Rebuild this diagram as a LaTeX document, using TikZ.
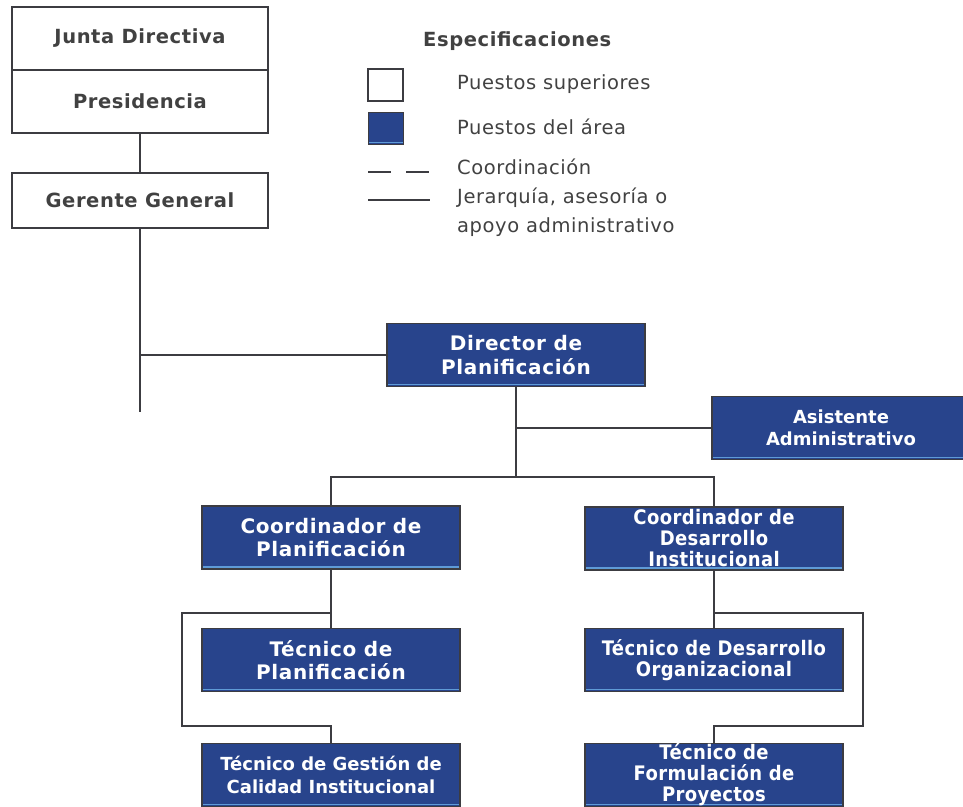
\documentclass[tikz,border=0pt]{standalone}
\usepackage{fontspec}
\setmainfont{DejaVu Sans}
\newfontfamily\boxfont[LetterSpace=3]{DejaVu Sans}
\newfontfamily\condfont[LetterSpace=2]{DejaVu Sans Condensed}
\definecolor{areablue}{RGB}{40,68,140}
\definecolor{lightline}{RGB}{95,155,215}
\definecolor{edgegray}{RGB}{60,60,65}
\definecolor{textgray}{RGB}{65,65,65}

\begin{document}
\begin{tikzpicture}[x=1pt, y=-1pt,
  link/.style={draw=edgegray, line width=1.8pt},
  topbox/.style={draw=edgegray, fill=white, line width=1.6pt, minimum width=256pt, inner sep=0pt, outer sep=0pt, text=textgray, font=\boxfont\bfseries\fontsize{19.5}{22}\selectfont},
  areabox/.style={draw=edgegray, fill=areablue, line width=1.4pt, minimum width=258pt, minimum height=63pt, inner sep=0pt, outer sep=0pt, align=center, text=white, font=\boxfont\bfseries\fontsize{20}{23.5}\selectfont,
    path picture={\draw[lightline, line width=1.6pt] ([yshift=2pt]path picture bounding box.south west) -- ([yshift=2pt]path picture bounding box.south east);}},
  cond/.style={font=\condfont\bfseries\fontsize{20}{21}\selectfont},
  plain/.style={font=\normalfont\bfseries\fontsize{18}{22.5}\selectfont},
  legtext/.style={anchor=west, inner sep=0pt, text=textgray, font=\boxfont\fontsize{19.5}{28.5}\selectfont, align=left}]
\useasboundingbox (0,0) rectangle (963,806);

%puestos superiores
\node[topbox, minimum height=63pt] (JD) at (140,38.5) {Junta Directiva};
\node[topbox, minimum height=63pt] (PR) at (140,101.5) {Presidencia};
\node[topbox, minimum height=55pt] (GG) at (140,200.5) {Gerente General};
\coordinate (GGend) at (140,412);
\draw[link] (PR.south) -- (GG.north);
\draw[link] (GG.south) -- (GGend);

%especificaciones
\node[legtext, font=\boxfont\bfseries\fontsize{19.5}{22}\selectfont] (ESP) at (423,41) {Especificaciones};
\node[draw=edgegray, line width=1.2pt, fill=white, minimum width=35pt, minimum height=32pt, inner sep=0pt] (SQ1) at (385.5,85) {};
\node[draw=edgegray, line width=0.8pt, fill=areablue, minimum width=35pt, minimum height=32pt, inner sep=0pt,
  path picture={\draw[lightline, line width=1.6pt] ([yshift=1.5pt]path picture bounding box.south west) -- ([yshift=1.5pt]path picture bounding box.south east);}] (SQ2) at (385.5,128) {};
\draw[link, dash pattern=on 23pt off 15pt] (368,172) -- (429,172);
\draw[link] (368,200) -- (430,200);
\node[legtext] (L1) at (457,84) {Puestos superiores};
\node[legtext] (L2) at (457,127) {Puestos del área};
\node[legtext] (L3) at (457,167) {Coordinación};
\node[legtext] (L4) at (457,212) {Jerarquía, asesoría o\\apoyo administrativo};

%puestos del area
\node[areabox] (DP) at (516,355) {Director de\\Planificación};
\node[areabox, plain] (AA) at (841,428) {Asistente\\Administrativo};
\node[areabox] (CP) at (331,537.5) {Coordinador de\\Planificación};
\node[areabox, cond] (CD) at (714,538.5) {Coordinador de\\Desarrollo\\Institucional};
\node[areabox] (TP) at (331,660) {Técnico de\\Planificación};
\node[areabox, cond] (TD) at (714,660) {Técnico de Desarrollo\\Organizacional};
\node[areabox, plain] (TG) at (331,775) {Técnico de Gestión de\\Calidad Institucional};
\node[areabox, cond] (TF) at (714,775) {Técnico de\\Formulación de\\Proyectos};

\coordinate (J1) at (516,477);
\coordinate (LB1) at (182,613);
\coordinate (LB2) at (182,726);
\coordinate (RB1) at (863,613);
\coordinate (RB2) at (863,726);
\draw[link] (DP.west) -- (DP.west -| GG.south);
\draw[link] (DP.south) -- (J1);
\draw[link] (AA.west) -- (AA.west -| DP.south);
\draw[link] (CP.north) |- (J1) -| (CD.north);
\draw[link] (CP.south) -- (TP.north);
\draw[link] (CP.south |- LB1) -- (LB1) -- (LB2) -- (LB2 -| TG.north) -- (TG.north);
\draw[link] (CD.south) -- (TD.north);
\draw[link] (CD.south |- RB1) -- (RB1) -- (RB2) -- (RB2 -| TF.north) -- (TF.north);
\end{tikzpicture}
\end{document}
